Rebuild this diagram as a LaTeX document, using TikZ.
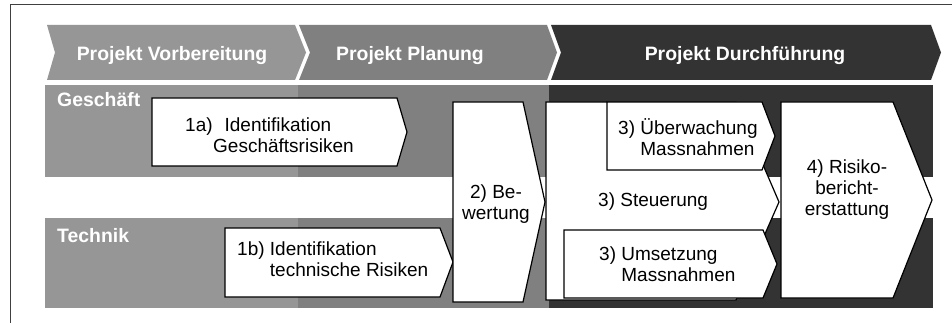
\documentclass[tikz,border=0pt]{standalone}
\usepackage{fontspec}
\setmainfont{Liberation Sans}
\definecolor{lightg}{gray}{0.59}
\definecolor{midg}{gray}{0.50}
\definecolor{darkg}{gray}{0.20}
\begin{document}
\begin{tikzpicture}[x=1pt,y=-1pt,
  box/.style={draw=black, line width=1.2pt, fill=white, line join=miter},
  txt/.style={inner sep=0pt, font=\fontsize{19}{21}\selectfont, align=left},
  ctxt/.style={inner sep=0pt, font=\fontsize{19}{21}\selectfont, align=center},
  hdr/.style={inner sep=0pt, text=white, font=\fontsize{19.4}{21}\selectfont\bfseries},
]
\useasboundingbox (0,0) rectangle (952,323);
\fill[white] (0,0) rectangle (952,323);
\draw[black!75, line width=1pt] (10,323) -- (10,5) -- (952,5);
% header chevrons
\fill[lightg] (47,25) -- (295,25) -- (306,52.5) -- (295,80) -- (47,80) -- (55,52.5) -- cycle;
\fill[midg] (299,25) -- (547,25) -- (557,52.5) -- (547,80) -- (299,80) -- (310,52.5) -- cycle;
\fill[darkg] (551,25) -- (931,25) -- (941,52.5) -- (931,80) -- (551,80) -- (561,52.5) -- cycle;
% background rows
\fill[lightg] (45,85) rectangle (298,177);
\fill[midg] (298,85) rectangle (549,177);
\fill[darkg] (549,85) rectangle (933,177);
\fill[lightg] (45,218) rectangle (298,308);
\fill[midg] (298,218) rectangle (549,308);
\fill[darkg] (549,218) rectangle (933,308);
% process shapes
\draw[box] (152,98) -- (397,98) -- (407,132) -- (397,166) -- (152,166) -- cycle;
\draw[box] (225,228) -- (440,228) -- (453,262) -- (440,297) -- (225,297) -- cycle;
\draw[box] (453,102) -- (523,102) -- (545,202) -- (523,302) -- (453,302) -- cycle;
\draw[box] (546,102) -- (736,102) -- (779,202) -- (736,300) -- (546,300) -- cycle;
\draw[box] (607,102) -- (762,102) -- (775,136) -- (762,170) -- (607,170) -- cycle;
\draw[box] (564,230) -- (763,230) -- (777,264) -- (763,298) -- (564,298) -- cycle;
\draw[box] (781,102) -- (893,102) -- (932,200) -- (893,298) -- (781,298) -- cycle;
% texts
\node[hdr, anchor=base] (h1) at (172,61) {Projekt Vorbereitung};
\node[hdr, anchor=base] (h2) at (410,61) {Projekt Planung};
\node[hdr, anchor=base] (h3) at (745,61) {Projekt Durchführung};
\node[hdr, anchor=base west] (gesch) at (57,107) {Geschäft};
\node[hdr, anchor=base west] (tech) at (57,242) {Technik};
\node[txt, anchor=west] (t1a) at (185,135) {1a)\hspace{12pt}Identifikation\\\hspace*{28pt}Geschäftsrisiken};
\node[txt, anchor=west] (t1b) at (237,259) {1b) Identifikation\\\hphantom{1b) }technische Risiken};
\node[ctxt] (t2) at (496,204) {2) Be-\\wertung};
\node[txt, anchor=west] (t3u) at (618,137) {3) Überwachung\\\hphantom{3) }Massnahmen};
\node[txt, anchor=west] (t3s) at (598,202) {3) Steuerung};
\node[txt, anchor=west] (t3m) at (599,264) {3) Umsetzung\\\hphantom{3) }Massnahmen};
\node[ctxt] (t4) at (847,190) {4) Risiko-\\bericht-\\erstattung};
\end{tikzpicture}
\end{document}
